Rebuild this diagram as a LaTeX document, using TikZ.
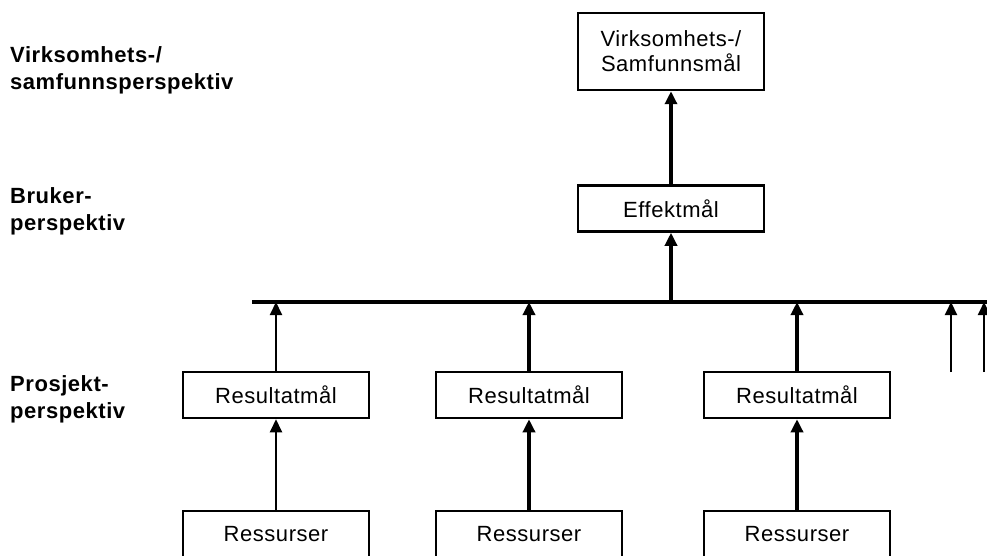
\documentclass[tikz,border=0pt]{standalone}
\usepackage{fontspec}
\setmainfont[LetterSpace=2.5]{Liberation Sans}
\usetikzlibrary{arrows.meta}

\tikzset{x=1pt, y=-1pt}
\tikzset{
  goalbox/.style={draw, line width=2.5pt, minimum width=186pt, minimum height=46pt,
    inner sep=0pt, align=center, font=\fontsize{22}{25}\selectfont},
  levellabel/.style={anchor=north west, inner sep=0pt, align=left,
    font=\fontsize{22}{27}\selectfont\bfseries},
  thinarrow/.style={line width=2pt, -{Triangle[length=13pt,width=12pt]}},
  thickarrow/.style={line width=3.5pt, -{Triangle[length=13pt,width=12pt]}}
}

\begin{document}
\begin{tikzpicture}
\useasboundingbox (0,0) rectangle (987,556);
\clip (0,0) rectangle (987,556);
% perspective labels on the left
\node[levellabel] (lblorg) at (10,46) {Virksomhets-/\\samfunnsperspektiv};
\node[levellabel] (lbluser) at (10,187) {Bruker-\\perspektiv};
\node[levellabel] (lblproj) at (10,375) {Prosjekt-\\perspektiv};
% goal hierarchy
\node[goalbox, minimum height=77pt] (org) at (671,51.5) {Virksomhets-/\\Samfunnsmål};
\node[goalbox] (effect) at (671,208.5) {Effektmål};
\coordinate (busL) at (252,302);
\coordinate (busR) at (990,302);
\draw[line width=4pt] (busL) -- (busR);
\draw[thickarrow] (effect) -- (org);
\draw[thickarrow] (effect |- busL) -- (effect);
\foreach \i/\cx in {1/276,2/529,3/797}{
  \node[goalbox] (res\i) at (\cx,395) {Resultatmål};
  \node[goalbox] (ress\i) at (\cx,534) {Ressurser};
}
\draw[thinarrow] (res1) -- (res1 |- busL);
\draw[thinarrow] (ress1) -- (res1);
\foreach \i in {2,3}{
  \draw[thickarrow] (res\i) -- (res\i |- busL);
  \draw[thickarrow] (ress\i) -- (res\i);
}
% more projects to the right
\foreach \cx/\n in {951/a,984/b}{
  \coordinate (more\n) at (\cx,372);
  \draw[thinarrow] (more\n) -- (more\n |- busL);
}
\end{tikzpicture}
\end{document}
